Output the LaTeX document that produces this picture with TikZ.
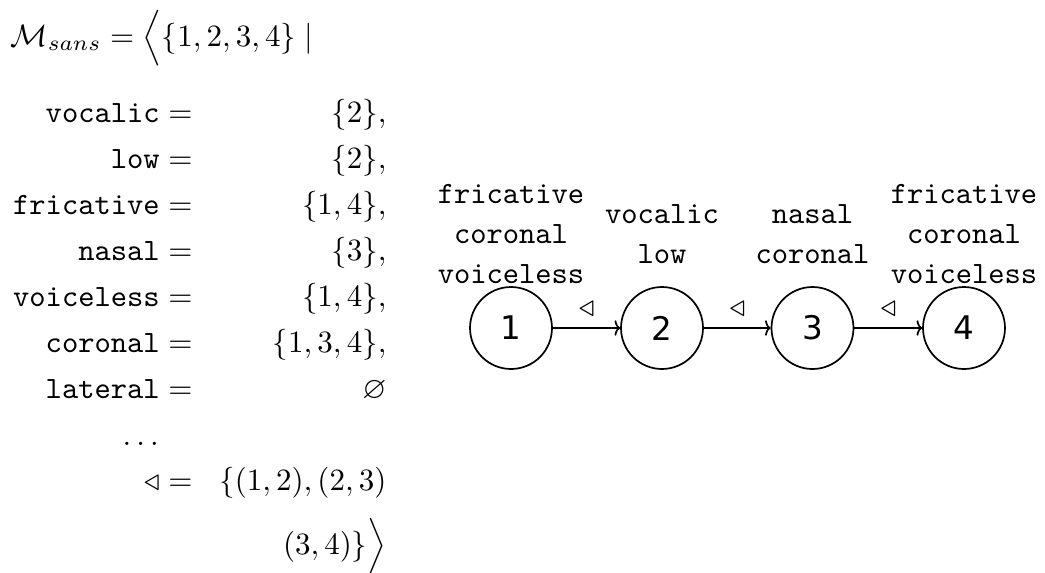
\documentclass[tikz,border=0pt]{standalone}
\usepackage{amssymb}
\usepackage{fontspec}
\usetikzlibrary{arrows.meta}
\newfontfamily\statefont{DejaVu Sans}
\begin{document}
\begin{tikzpicture}[x=0.3226pt,y=-0.3226pt,
  line/.style={anchor=base east,inner sep=0pt},
  state/.style={draw,line width=0.55pt,circle,minimum size=26.45pt,inner sep=0pt,font=\statefont\fontsize{10.5}{12}\selectfont},
  feat/.style={align=center,inner sep=0pt,font=\ttfamily\fontsize{10}{13}\selectfont},
  prec/.style={-{To[length=1.8pt,width=5pt]},line width=0.55pt}
]
\useasboundingbox (0,0) rectangle (1045,572);

% the model: domain and unary relations
\node[anchor=base west,inner sep=0pt] (title) at (10,46)
  {$\mathcal{M}_{sans} = \Big\langle \{1,2,3,4\} \mid$};

\node[line] (k1) at (193,122) {$\texttt{vocalic} =$};
\node[line] (k2) at (193,168) {$\texttt{low} =$};
\node[line] (k3) at (193,214) {$\texttt{fricative} =$};
\node[line] (k4) at (193,260) {$\texttt{nasal} =$};
\node[line] (k5) at (193,306) {$\texttt{voiceless} =$};
\node[line] (k6) at (193,352) {$\texttt{coronal} =$};
\node[line] (k7) at (193,398) {$\texttt{lateral} =$};
\node[anchor=base west,inner sep=0pt] (k8) at (122,445) {$\ldots$};
\node[line] (k9) at (193,490) {$\triangleleft =$};

\node[line] (v1) at (387,122) {$\{2\},$};
\node[line] (v2) at (387,168) {$\{2\},$};
\node[line] (v3) at (387,214) {$\{1,4\},$};
\node[line] (v4) at (387,260) {$\{3\},$};
\node[line] (v5) at (387,306) {$\{1,4\},$};
\node[line] (v6) at (387,352) {$\{1,3,4\},$};
\node[line] (v7) at (387,398) {$\varnothing$};
\node[line] (v9) at (387,490) {$\{(1,2),(2,3)$};
\node[line] (v10) at (387,554) {$(3,4)\}\Big\rangle$};

% the string as a graph of positions
\node[state] (n1) at (511,328) {1};
\node[state] (n2) at (662,328) {2};
\node[state] (n3) at (812.5,328) {3};
\node[state] (n4) at (964,328) {4};

\node[feat] (f1) at (511,234) {fricative\\coronal\\voiceless};
\node[feat] (f2) at (662,234) {vocalic\\low};
\node[feat] (f3) at (812.5,234) {nasal\\coronal};
\node[feat] (f4) at (964,234) {fricative\\coronal\\voiceless};

\draw[prec] (n1) -- node[above] {$\triangleleft$} (n2);
\draw[prec] (n2) -- node[above] {$\triangleleft$} (n3);
\draw[prec] (n3) -- node[above] {$\triangleleft$} (n4);
\end{tikzpicture}
\end{document}
